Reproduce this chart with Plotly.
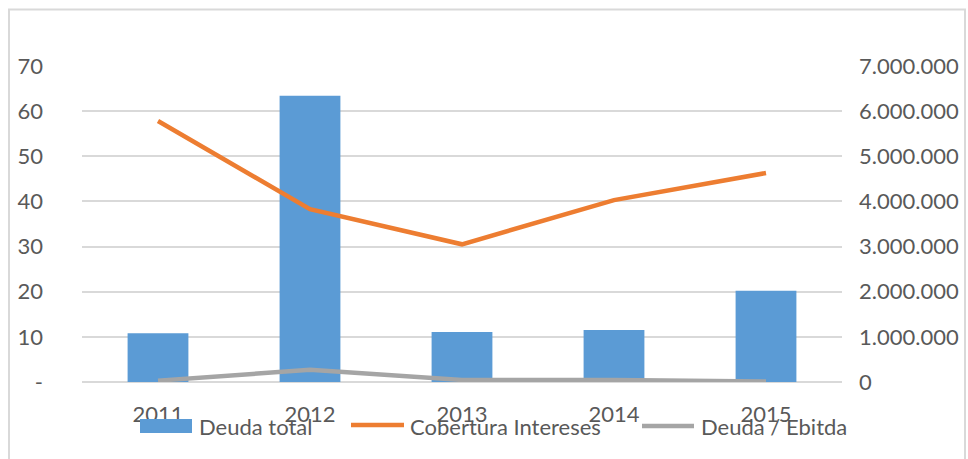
import plotly.graph_objects as go

years = ["2011", "2012", "2013", "2014", "2015"]
deuda_total = [1080000, 6340000, 1110000, 1150000, 2020000]
cobertura_intereses = [57.8, 38.3, 30.5, 40.3, 46.3]
deuda_ebitda = [0.3, 2.7, 0.45, 0.45, 0.1]

left_ticks = [0, 10, 20, 30, 40, 50, 60, 70]
left_labels = ["-", "10", "20", "30", "40", "50", "60", "70"]
right_ticks = [0, 1000000, 2000000, 3000000, 4000000, 5000000, 6000000, 7000000]
right_labels = ["0", "1.000.000", "2.000.000", "3.000.000", "4.000.000",
                "5.000.000", "6.000.000", "7.000.000"]

FONT = "Lato, Carlito, Liberation Sans, sans-serif"
TXT = "#595959"
GRID = "#d9d9d9"
BLUE = "#5b9bd5"
ORANGE = "#ed7d31"
GRAY = "#a5a5a5"
FS = 22

# plot area: x 82..842, y 66..382
L, R, T, B = 82, 842, 66, 382
W, H = R - L, B - T


def px(x):
    return (x - L) / W


def py(y):
    return (B - y) / H


fig = go.Figure()
# bars on primary axis (drawn first, underneath)
fig.add_trace(go.Bar(x=years, y=deuda_total, name="Deuda total", yaxis="y",
                     marker=dict(color=BLUE, line=dict(width=0)), width=0.4))
# lines on overlaying axis (drawn on top)
fig.add_trace(go.Scatter(x=years, y=cobertura_intereses, name="Cobertura Intereses",
                         yaxis="y2", mode="lines",
                         line=dict(color=ORANGE, width=4.5)))
fig.add_trace(go.Scatter(x=years, y=deuda_ebitda, name="Deuda / Ebitda",
                         yaxis="y2", mode="lines",
                         line=dict(color=GRAY, width=4.5)))

shapes = [
    dict(type="rect", xref="paper", yref="paper",
         x0=px(9), x1=px(965), y0=py(470), y1=py(9.5),
         line=dict(color="#d9d9d9", width=2), fillcolor="rgba(0,0,0,0)",
         layer="below"),
    # custom legend symbols
    dict(type="rect", xref="paper", yref="paper",
         x0=px(140), x1=px(192), y0=py(433), y1=py(419),
         line=dict(width=0), fillcolor=BLUE),
    dict(type="line", xref="paper", yref="paper",
         x0=px(351), x1=px(404), y0=py(425), y1=py(425),
         line=dict(color=ORANGE, width=4.5)),
    dict(type="line", xref="paper", yref="paper",
         x0=px(642), x1=px(694), y0=py(426), y1=py(426),
         line=dict(color=GRAY, width=4.5)),
]

annotations = [
    dict(text="Deuda total", x=px(197), y=py(426)),
    dict(text="Cobertura Intereses", x=px(408), y=py(426)),
    dict(text="Deuda / Ebitda", x=px(699), y=py(426)),
]
for a in annotations:
    a.update(xref="paper", yref="paper", xanchor="left", yanchor="middle",
             showarrow=False, font=dict(family=FONT, size=FS, color=TXT))

fig.update_layout(
    width=968, height=459,
    margin=dict(l=L, r=968 - R, t=T, b=459 - B, autoexpand=False),
    paper_bgcolor="white", plot_bgcolor="white",
    font=dict(family=FONT, size=FS, color=TXT),
    showlegend=False,
    xaxis=dict(type="category", showgrid=False, showline=False, zeroline=False,
               automargin=False,
               ticks="", ticklabelstandoff=17, tickfont=dict(size=FS, color=TXT)),
    yaxis=dict(range=[0, 7000000], tickvals=right_ticks, ticktext=right_labels,
               side="right", showgrid=True, gridcolor=GRID, gridwidth=1.5,
               zeroline=True, zerolinecolor=GRID, zerolinewidth=1.5,
               automargin=False,
               showline=False, ticks="", ticklabelstandoff=16,
               tickfont=dict(size=FS, color=TXT)),
    yaxis2=dict(range=[0, 70], tickvals=left_ticks, ticktext=left_labels,
                overlaying="y", side="left", showgrid=False, zeroline=False,
                automargin=False,
                showline=False, ticks="", ticklabelstandoff=38,
                tickfont=dict(size=FS, color=TXT)),
    shapes=shapes,
    annotations=annotations,
)

fig.write_html("out.html")
